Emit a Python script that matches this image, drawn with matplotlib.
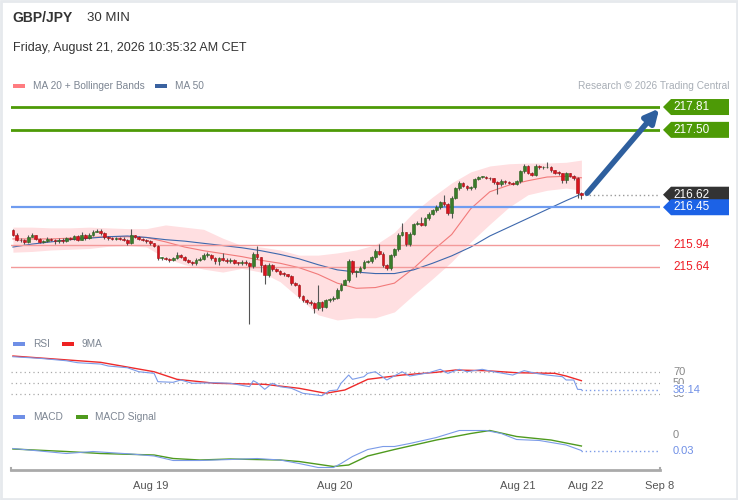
import numpy as np
import matplotlib
matplotlib.use('Agg')
import matplotlib.pyplot as plt
from matplotlib.patches import Polygon, Rectangle
from matplotlib.transforms import blended_transform_factory

plt.rcParams['font.family'] = ['Liberation Sans', 'DejaVu Sans']

# ---- data ----
first_open = 216.14
closes = [216.08, 216.01, 216.00, 215.98, 216.05, 216.07, 216.02, 215.98, 215.99, 216.02,
          216.01, 215.99, 216.01, 215.99, 216.03, 216.02, 216.06, 216.01, 216.07, 216.03,
          216.07, 216.12, 216.13, 216.10, 216.04, 216.03, 216.02, 216.03, 216.02, 216.01,
          215.96, 216.07, 216.05, 216.02, 216.01, 215.99, 215.96, 215.93, 215.76, 215.76,
          215.75, 215.73, 215.76, 215.80, 215.78, 215.74, 215.71, 215.70, 215.74, 215.75,
          215.80, 215.80, 215.76, 215.72, 215.76, 215.74, 215.72, 215.74, 215.70, 215.69,
          215.71, 215.70, 215.65, 215.81, 215.77, 215.67, 215.53, 215.67, 215.61, 215.59,
          215.55, 215.54, 215.52, 215.42, 215.40, 215.24, 215.19, 215.17, 215.15, 215.08,
          215.17, 215.09, 215.19, 215.20, 215.22, 215.33, 215.40, 215.46, 215.72, 215.57,
          215.58, 215.63, 215.71, 215.72, 215.77, 215.86, 215.82, 215.66, 215.62, 215.80,
          215.88, 216.08, 216.11, 215.95, 216.09, 216.22, 216.24, 216.21, 216.30, 216.36,
          216.41, 216.45, 216.52, 216.49, 216.37, 216.58, 216.71, 216.78, 216.74, 216.71,
          216.72, 216.83, 216.86, 216.86, 216.85, 216.84, 216.79, 216.76, 216.81, 216.79,
          216.78, 216.77, 216.80, 216.94, 217.01, 216.92, 216.89, 217.01, 216.99, 216.99,
          217.00, 216.95, 216.92, 216.91, 216.82, 216.91, 216.88, 216.84, 216.64, 216.62]
highs = [216.16, 216.10, 216.03, 216.02, 216.07, 216.10, 216.08, 216.03, 216.01, 216.04,
         216.03, 216.02, 216.03, 216.03, 216.05, 216.04, 216.08, 216.07, 216.11, 216.09,
         216.10, 216.14, 216.16, 216.15, 216.11, 216.06, 216.04, 216.05, 216.04, 216.04,
         216.02, 216.15, 216.08, 216.06, 216.03, 216.02, 216.00, 215.97, 215.94, 215.78,
         215.77, 215.76, 215.78, 215.84, 215.81, 215.79, 215.75, 215.72, 215.76, 215.77,
         215.83, 215.84, 215.81, 215.77, 215.78, 215.83, 215.76, 215.76, 215.75, 215.71,
         215.73, 215.73, 215.71, 215.84, 215.92, 215.78, 215.68, 215.69, 215.68, 215.62,
         215.60, 215.57, 215.55, 215.53, 215.44, 215.41, 215.26, 215.21, 215.19, 215.16,
         215.39, 215.18, 215.21, 215.22, 215.24, 215.35, 215.42, 215.48, 215.75, 215.73,
         215.60, 215.65, 215.73, 215.74, 215.79, 215.88, 215.95, 215.84, 215.68, 215.82,
         215.90, 216.10, 216.23, 216.12, 216.11, 216.24, 216.27, 216.32, 216.32, 216.38,
         216.43, 216.48, 216.54, 216.62, 216.51, 216.60, 216.73, 216.80, 216.79, 216.75,
         216.74, 216.85, 216.88, 216.88, 216.87, 216.86, 216.85, 216.80, 216.83, 216.82,
         216.80, 216.79, 216.82, 216.96, 217.04, 217.02, 216.93, 217.03, 217.02, 217.01,
         217.07, 217.01, 216.96, 216.94, 216.92, 216.93, 216.92, 216.89, 216.86, 216.66]
lows = [216.06, 215.99, 215.98, 215.95, 215.97, 216.04, 216.00, 215.96, 215.97, 215.98,
        215.99, 215.95, 215.97, 215.97, 215.98, 216.00, 216.01, 215.99, 216.00, 216.01,
        216.02, 216.06, 216.11, 216.08, 216.02, 216.01, 216.00, 216.01, 216.00, 215.99,
        215.94, 215.95, 216.03, 216.00, 215.99, 215.97, 215.94, 215.91, 215.73, 215.74,
        215.73, 215.71, 215.72, 215.75, 215.76, 215.72, 215.69, 215.66, 215.66, 215.72,
        215.73, 215.77, 215.74, 215.68, 215.66, 215.72, 215.70, 215.70, 215.68, 215.67,
        215.67, 215.67, 214.87, 215.63, 215.75, 215.57, 215.41, 215.51, 215.59, 215.57,
        215.53, 215.52, 215.50, 215.40, 215.38, 215.22, 215.17, 215.14, 215.12, 215.02,
        215.06, 215.04, 215.08, 215.17, 215.18, 215.21, 215.31, 215.39, 215.44, 215.55,
        215.50, 215.56, 215.61, 215.70, 215.70, 215.75, 215.80, 215.64, 215.60, 215.60,
        215.78, 215.86, 216.06, 215.93, 215.93, 216.07, 216.21, 216.19, 216.19, 216.28,
        216.34, 216.39, 216.43, 216.47, 216.35, 216.30, 216.56, 216.69, 216.72, 216.69,
        216.69, 216.70, 216.82, 216.84, 216.83, 216.82, 216.77, 216.63, 216.74, 216.77,
        216.76, 216.75, 216.75, 216.78, 216.92, 216.90, 216.87, 216.87, 216.97, 216.97,
        216.98, 216.93, 216.90, 216.89, 216.78, 216.78, 216.86, 216.82, 216.57, 216.56]

# indicators, sampled along the candle index
ind_idx = [0, 5, 10, 15, 20, 25, 30, 35, 40, 45, 50, 55, 60, 65, 70, 75, 80, 85, 90, 95,
           100, 105, 110, 115, 120, 125, 130, 135, 140, 145, 149]
ma20 = [216.02, 216.02, 216.02, 216.03, 216.04, 216.05, 216.05, 216.04, 215.98, 215.91,
        215.86, 215.82, 215.78, 215.73, 215.69, 215.63, 215.54, 215.42, 215.35, 215.36,
        215.42, 215.62, 215.86, 216.08, 216.43, 216.66, 216.75, 216.81, 216.86, 216.87, 216.85]
bb_upper = [216.18, 216.18, 216.17, 216.17, 216.18, 216.17, 216.16, 216.16, 216.21, 216.18,
            216.15, 216.03, 215.93, 215.91, 215.87, 215.80, 215.80, 215.83, 215.87, 215.94,
            216.11, 216.38, 216.59, 216.78, 216.93, 217.01, 217.04, 217.05, 217.05, 217.06, 217.09]
bb_lower = [215.84, 215.85, 215.87, 215.88, 215.89, 215.92, 215.93, 215.91, 215.76, 215.67,
            215.61, 215.57, 215.62, 215.57, 215.44, 215.22, 214.99, 214.92, 214.95, 214.95,
            215.03, 215.26, 215.48, 215.71, 215.98, 216.22, 216.45, 216.62, 216.68, 216.71, 216.68]
ma50 = [215.91, 215.95, 215.98, 216.01, 216.03, 216.05, 216.06, 216.04, 216.01, 215.99,
        215.96, 215.93, 215.90, 215.86, 215.81, 215.75, 215.67, 215.60, 215.57, 215.55,
        215.55, 215.60, 215.69, 215.79, 215.91, 216.06, 216.18, 216.30, 216.42, 216.54, 216.63]

rsi_idx = [0, 7, 14, 17, 23, 25, 30, 33, 37, 38, 42, 44, 47, 53, 57, 62, 63, 64, 66, 68,
           70, 73, 76, 81, 83, 85, 86, 88, 89, 92, 93, 95, 98, 102, 104, 109, 112, 114, 117, 119,
           123, 126, 131, 134, 137, 140, 144, 145, 147, 148, 149]
rsi = [97.8, 94.9, 90.5, 86.9, 84.5, 80.9, 77.8, 70.5, 67.6, 52.4, 51.3, 55.5, 49.5, 50.5, 49.5,
       43.3, 54.2, 50.5, 38.5, 49.5, 43.3, 40.4, 31.3, 26.9, 36.0, 37.3, 49.5, 64.5, 56.7, 61.5,
       67.6, 70.5, 55.5, 70.5, 62.7, 68.7, 74.9, 67.6, 74.9, 70.5, 74.9, 70.5, 64.5, 72.5, 67.6,
       64.5, 61.5, 55.5, 55.5, 38.5, 38.14]
rsi_ma_idx = [0, 23, 37, 43, 53, 66, 75, 82, 87, 93, 102, 111, 116, 124, 132, 142, 145, 149]
rsi_ma = [99.1, 87.6, 70.5, 56.7, 49.5, 47.6, 40.4, 31.3, 37.3, 56.7, 64.5, 69.5, 73.6, 72.4,
          68.7, 67.6, 62.7, 54.2]
rsi_levels = [70, 50, 30]

macd_idx = [0, 14, 21, 31, 37, 42, 49, 57, 64, 70, 75, 80, 84, 86, 89, 93, 97, 100, 104, 111,
            117, 124, 128, 132, 138, 145, 149]
macd = [-0.027, -0.037, -0.033, -0.038, -0.042, -0.051, -0.051, -0.049, -0.047, -0.050, -0.057,
        -0.065, -0.065, -0.057, -0.043, -0.029, -0.023, -0.023, -0.017, -0.005, 0.009, 0.009,
        0.003, -0.009, -0.011, -0.020, -0.031]
signal_idx = [0, 14, 23, 37, 42, 49, 57, 70, 75, 84, 88, 93, 100, 111, 120, 125, 132, 141, 149]
signal = [-0.028, -0.033, -0.037, -0.040, -0.047, -0.050, -0.048, -0.050, -0.053, -0.063, -0.060,
          -0.042, -0.029, -0.010, 0.003, 0.009, -0.003, -0.010, -0.022]

levels_green = [217.81, 217.50]
level_blue = 216.45
levels_red = [215.94, 215.64]
last_price = 216.62

tick_pos = [36, 84.3, 132.2, 150.2, 169.6]
tick_labels = ['Aug 19', 'Aug 20', 'Aug 21', 'Aug 22', 'Sep 8']

# ---- figure ----
W, H = 738, 500
fig = plt.figure(figsize=(W / 100, H / 100), dpi=100)
fig.patch.set_facecolor('white')

def fx(px):
    return px / W

def fy(py):
    return 1 - py / H

xlim = (-0.5, 169.6)
left, right = 11, 660

ax = fig.add_axes([fx(left), fy(330), fx(right - left), (330 - 97) / H])
ax_rsi = fig.add_axes([fx(left), fy(402), fx(right - left), 50 / H])
ax_macd = fig.add_axes([fx(left), fy(470), fx(right - left), 45 / H])

for a in (ax, ax_rsi, ax_macd):
    a.set_xlim(*xlim)
    for s in a.spines.values():
        s.set_visible(False)
    a.set_yticks([])
    a.set_xticks([])
    a.patch.set_alpha(0)

ax.set_ylim(214.784, 217.946)
ax_rsi.set_ylim(15.45, 106.4)
ax_macd.set_ylim(-0.07, 0.02)

# bollinger + moving averages
ax.fill_between(ind_idx, bb_lower, bb_upper, color='#ffdfe1', lw=0, zorder=1)
ax.plot(ind_idx, ma20, color='#f27a7a', lw=0.8, zorder=2)
ax.plot(ind_idx, ma50, color='#3d68ad', lw=0.8, zorder=2)

# level lines
for lv in levels_green:
    ax.axhline(lv, color='#4d9a06', lw=2, zorder=3)
ax.axhline(level_blue, color='#6f9cf0', lw=1.6, zorder=3)
for lv in levels_red:
    ax.axhline(lv, color='#f39a9a', lw=1, zorder=3)

# candles
x = np.arange(len(closes))
c = np.array(closes)
o = np.concatenate([[first_open], c[:-1]])
up = c >= o
ax.vlines(x, lows, highs, color='#555555', lw=0.8, zorder=4)
body_bottom = np.minimum(o, c)
body_h = np.maximum(np.abs(c - o), 0.012)
ax.bar(x[up], body_h[up], bottom=body_bottom[up], width=0.72, color='#3a7d2a',
       edgecolor='#2d5e20', lw=0.4, zorder=5)
ax.bar(x[~up], body_h[~up], bottom=body_bottom[~up], width=0.72, color='#d9141e',
       edgecolor='#a01015', lw=0.4, zorder=5)

# last price dotted line
ax.hlines(last_price, x[-1] + 1, xlim[1], colors='#999999', linestyles=(0, (1, 2)), lw=1, zorder=3)

# forecast arrow
ax.annotate('', xy=(xlim[1] - 0.2, levels_green[0] - 0.02), xytext=(x[-1] + 1.5, last_price + 0.02),
            arrowprops=dict(arrowstyle='-|>', color='#2e5f9e', lw=4, mutation_scale=20,
                            shrinkA=0, shrinkB=0), zorder=6)

# price tags on the right
trans = blended_transform_factory(fig.transFigure, ax.transData)
ppu = (330 - 97) / (217.946 - 214.784)
half = 8 / ppu

def price_tag(val, face):
    pts = [(fx(663), val), (fx(671), val + half), (fx(729), val + half),
           (fx(729), val - half), (fx(671), val - half)]
    fig.add_artist(Polygon(pts, closed=True, transform=trans, facecolor=face,
                           edgecolor='none', clip_on=False, zorder=8))
    fig.text(fx(673), val, f'{val:.2f}', transform=trans, color='white', fontsize=8.5,
             va='center', ha='left', zorder=9)

for lv in levels_green:
    price_tag(lv, '#4d9a06')
price_tag(last_price, '#333333')
price_tag(level_blue, '#1c62e6')
for lv in levels_red:
    fig.text(fx(673), lv, f'{lv:.2f}', transform=trans, color='#ee1c25', fontsize=8.5,
             va='center', ha='left', zorder=9)

# RSI panel
for lv in rsi_levels:
    ax_rsi.axhline(lv, color='#aaaaaa', lw=0.9, linestyle=(0, (1, 2.5)))
ax_rsi.plot(rsi_ma_idx, rsi_ma, color='#ee2a2a', lw=1)
ax_rsi.plot(rsi_idx, rsi, color='#7b9be8', lw=0.8)
ax_rsi.hlines(rsi[-1], rsi_idx[-1], xlim[1], colors='#7b9be8', linestyles=(0, (1, 2)), lw=1)
trans_r = blended_transform_factory(fig.transFigure, ax_rsi.transData)
for lv in rsi_levels:
    fig.text(fx(673), lv, str(lv), transform=trans_r, color='#888888', fontsize=8,
             va='center', ha='left', zorder=8)
fig.text(fx(673), rsi[-1], f'{rsi[-1]:.2f}', transform=trans_r, color='#6f8fe6', fontsize=8,
         va='center', ha='left', zorder=9,
         bbox=dict(facecolor='white', edgecolor='none', pad=0.5))

# MACD panel
ax_macd.plot(signal_idx, signal, color='#4f9a1e', lw=1)
ax_macd.plot(macd_idx, macd, color='#7b9be8', lw=0.8)
ax_macd.hlines(macd[-1], macd_idx[-1], xlim[1], colors='#7b9be8', linestyles=(0, (1, 2)), lw=1)
trans_m = blended_transform_factory(fig.transFigure, ax_macd.transData)
fig.text(fx(673), 0, '0', transform=trans_m, color='#888888', fontsize=8,
         va='center', ha='left')
fig.text(fx(673), macd[-1], f'{abs(macd[-1]):.2f}', transform=trans_m, color='#6f8fe6',
         fontsize=8, va='center', ha='left')

# x axis
ax_macd.spines['bottom'].set_visible(True)
ax_macd.spines['bottom'].set_color('#aaaaaa')
ax_macd.spines['bottom'].set_linewidth(2)
ax_macd.set_xticks(tick_pos, tick_labels)
ax_macd.tick_params(axis='x', length=0, pad=8, labelsize=8, labelcolor='#555555')
for xe in xlim:
    ax_macd.plot([xe, xe], [-0.07, -0.0655], color='#aaaaaa', lw=1.5, clip_on=False)

# header and legends
fig.text(fx(12), fy(18), 'GBP/JPY', fontsize=10, fontweight='bold', color='#333333', va='center')
fig.text(fx(87), fy(18), '30 MIN', fontsize=9.5, color='#333333', va='center')
fig.text(fx(13), fy(48), 'Friday, August 21, 2026 10:35:32 AM CET', fontsize=9, color='#333333',
         va='center')

def legend_item(px, py, color, label, tx):
    fig.add_artist(Rectangle((fx(px), fy(py + 2)), fx(12), 4 / H, transform=fig.transFigure,
                             facecolor=color, edgecolor='none'))
    fig.text(fx(tx), fy(py), label, fontsize=7.3, color='#7c8592', va='center')

legend_item(13, 86, '#ff7c80', 'MA 20 + Bollinger Bands', 33)
legend_item(155, 86, '#3a62a0', 'MA 50', 175)
legend_item(13, 344, '#6f8fe6', 'RSI', 33)
legend_item(62, 344, '#ee2222', '9MA', 82)
legend_item(13, 417, '#6f8fe6', 'MACD', 33)
legend_item(76, 417, '#4f9a1e', 'MACD Signal', 95)
fig.text(fx(729), fy(86), 'Research \u00a9 2026 Trading Central', fontsize=7.3, color='#a8aeb6',
         ha='right', va='center')

fig.add_artist(Rectangle((0.001, 0.002), 0.997, 0.996, transform=fig.transFigure,
                         facecolor='none', edgecolor='#e6e9ed', lw=2))

fig.savefig('out.png', dpi=100)
